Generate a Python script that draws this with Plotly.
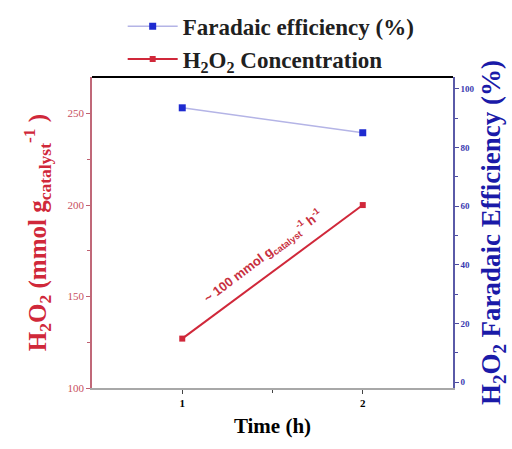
import plotly.graph_objects as go

time_h = [1, 2]
h2o2_conc = [127, 200]
faradaic_eff = [93.5, 85]

left_ticks = [100, 150, 200, 250]
right_ticks = [0, 20, 40, 60, 80, 100]
x_ticks = [1, 2]

RED = "#d0283a"
BLUE = "#1e2ad0"
SERIF = "Liberation Serif"

fig = go.Figure()
fig.add_trace(go.Scatter(
    x=time_h, y=faradaic_eff, name="Faradaic efficiency (%)", yaxis="y2",
    mode="lines+markers", line=dict(color="#b4b4e6", width=1.5),
    marker=dict(symbol="square", size=7, color=BLUE)))
fig.add_trace(go.Scatter(
    x=time_h, y=h2o2_conc, name="H<sub>2</sub>O<sub>2</sub> Concentration",
    mode="lines+markers", line=dict(color=RED, width=2),
    marker=dict(symbol="square", size=6, color=RED)))

fig.update_layout(
    width=512, height=449,
    margin=dict(l=92, r=59, t=77, b=61, autoexpand=False),
    paper_bgcolor="white", plot_bgcolor="white",
    font=dict(family=SERIF, color="black"),
    showlegend=True,
    legend=dict(x=0.085, y=0.988, xanchor="left", yanchor="bottom",
                font=dict(family=SERIF, size=23, color="#202020", weight="bold"),
                bgcolor="rgba(255,255,255,0)", tracegroupgap=0, itemwidth=50),
    xaxis=dict(range=[0.5, 2.5], tickvals=x_ticks, ticks="outside", ticklen=4,
               tickfont=dict(size=11, color="black", weight="bold"),
               showline=True, linecolor="#a8a8a8", linewidth=2, showgrid=False, zeroline=False,
               minor=dict(tickvals=[1.5], ticks="outside", ticklen=3),
               title=dict(text="Time (h)", font=dict(size=21, weight="bold"), standoff=10)),
    yaxis=dict(range=[100, 270], tickvals=left_ticks, ticks="outside", ticklen=4,
               tickcolor="#c06070",
               tickfont=dict(size=11, color="#c85060"),
               showline=True, linecolor="#c06878", linewidth=1.5, showgrid=False, zeroline=False,
               minor=dict(tickvals=[125, 175, 225], ticks="outside", ticklen=3, tickcolor="#c06070"),
               title=dict(text="H<sub>2</sub>O<sub>2</sub> (mmol g<sub>catalyst</sub><sup>-1</sup> )",
                          font=dict(size=25, color=RED, weight="bold"), standoff=14)),
    yaxis2=dict(range=[-2, 104], overlaying="y", side="right", tickvals=right_ticks,
                ticks="outside", ticklen=4, tickcolor="#4a4aa0",
                tickfont=dict(size=9, color="#3a3ab0", weight="bold"),
                showline=True, linecolor="#5a5aa8", linewidth=1.5, showgrid=False, zeroline=False,
                minor=dict(tickvals=[10, 30, 50, 70, 90], ticks="outside", ticklen=3, tickcolor="#4a4aa0"),
                title=dict(text="H<sub>2</sub>O<sub>2</sub> Faradaic Efficiency (%)",
                           font=dict(size=27, color="#1a1aa8", weight="bold"), standoff=8)),
    shapes=[dict(type="line", xref="paper", yref="paper", x0=0, x1=1, y0=1, y1=1,
                 line=dict(color="black", width=2))],
    annotations=[dict(x=1.45, y=172, xref="x", yref="y",
                      text="~ 100 mmol g<sub>catalyst</sub><sup>-1</sup> h<sup>-1</sup>",
                      textangle=-37, showarrow=False,
                      font=dict(family="Liberation Sans", size=13, color="#c83040", weight="bold"))],
)

fig.write_html("out.html")
